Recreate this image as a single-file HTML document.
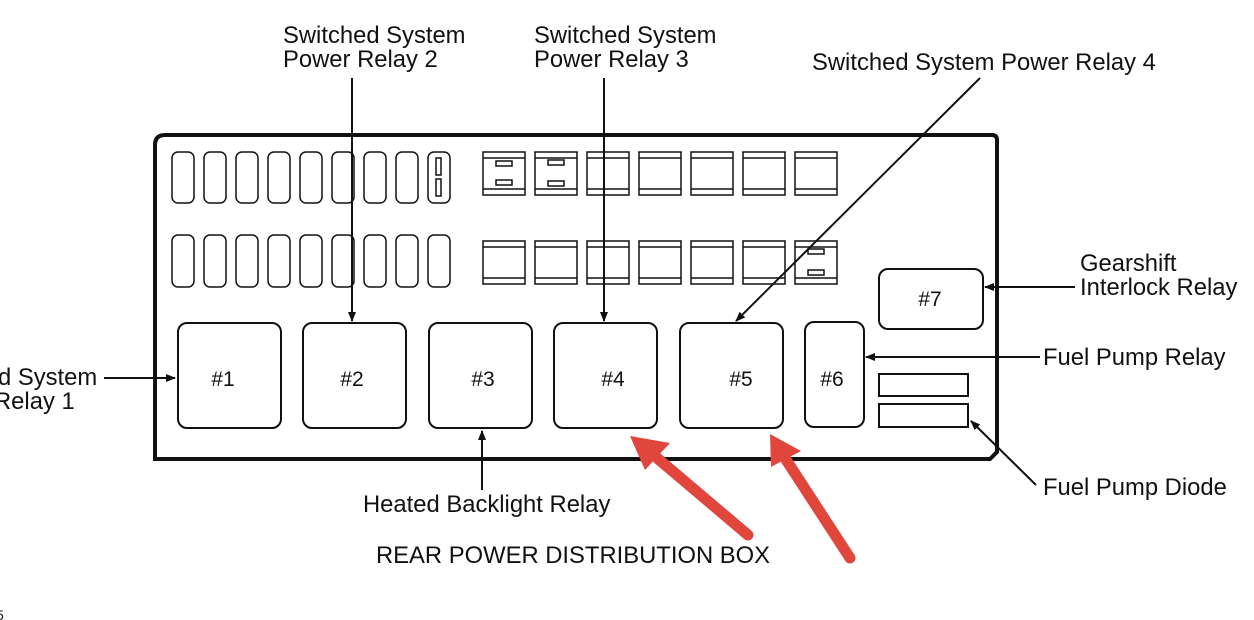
<!DOCTYPE html>
<html><head><style>
html,body{margin:0;padding:0;background:#fff;}
svg{display:block;}
text{font-family:"Liberation Sans",Arial,sans-serif;font-size:23.8px;fill:#111;}
text.n{font-size:21px;}
</style></head><body>
<svg width="1254" height="620" viewBox="0 0 1254 620" xmlns="http://www.w3.org/2000/svg">
<defs>
<marker id="a" markerWidth="10" markerHeight="8" refX="9" refY="4" orient="auto" markerUnits="userSpaceOnUse">
<path d="M0,0 L10,4 L0,8 Z" fill="#111"/></marker>
</defs>
<path d="M155,459 L155,145 Q155,135 165,135 L992,135 Q997,135 997,140 L997,452 L990,459 Z" fill="none" stroke="#111" stroke-width="4"/>
<g fill="none" stroke="#111" stroke-width="1.5">
<rect x="172" y="152" width="22" height="51" rx="6"/>
<rect x="204" y="152" width="22" height="51" rx="6"/>
<rect x="236" y="152" width="22" height="51" rx="6"/>
<rect x="268" y="152" width="22" height="51" rx="6"/>
<rect x="300" y="152" width="22" height="51" rx="6"/>
<rect x="332" y="152" width="22" height="51" rx="6"/>
<rect x="364" y="152" width="22" height="51" rx="6"/>
<rect x="396" y="152" width="22" height="51" rx="6"/>
<rect x="428" y="152" width="22" height="51" rx="6"/>
<rect x="436" y="158" width="5" height="17"/>
<rect x="436" y="179" width="5" height="17"/>
<rect x="172" y="235" width="22" height="52" rx="6"/>
<rect x="204" y="235" width="22" height="52" rx="6"/>
<rect x="236" y="235" width="22" height="52" rx="6"/>
<rect x="268" y="235" width="22" height="52" rx="6"/>
<rect x="300" y="235" width="22" height="52" rx="6"/>
<rect x="332" y="235" width="22" height="52" rx="6"/>
<rect x="364" y="235" width="22" height="52" rx="6"/>
<rect x="396" y="235" width="22" height="52" rx="6"/>
<rect x="428" y="235" width="22" height="52" rx="6"/>
</g>
<g fill="none" stroke="#111" stroke-width="1.5">
<g id="sq"><rect x="483" y="152" width="42" height="43"/><line x1="483" y1="158" x2="525" y2="158"/><line x1="483" y1="189" x2="525" y2="189"/></g>
<use href="#sq" x="52"/><use href="#sq" x="104"/><use href="#sq" x="156"/><use href="#sq" x="208"/><use href="#sq" x="260"/><use href="#sq" x="312"/>
<use href="#sq" y="89"/><use href="#sq" x="52" y="89"/><use href="#sq" x="104" y="89"/><use href="#sq" x="156" y="89"/><use href="#sq" x="208" y="89"/><use href="#sq" x="260" y="89"/><use href="#sq" x="312" y="89"/>
<rect x="496" y="161" width="16" height="5"/><rect x="496" y="180" width="16" height="5"/>
<rect x="548" y="160" width="16" height="5"/><rect x="548" y="181" width="16" height="5"/>
<rect x="808" y="249" width="16" height="5"/><rect x="808" y="270" width="16" height="5"/>
</g>
<g fill="#fff" stroke="#111" stroke-width="2">
<rect x="178" y="323" width="103" height="105" rx="9"/>
<rect x="303" y="323" width="103" height="105" rx="9"/>
<rect x="429" y="323" width="103" height="105" rx="9"/>
<rect x="554" y="323" width="103" height="105" rx="9"/>
<rect x="680" y="323" width="103" height="105" rx="9"/>
<rect x="805" y="322" width="59" height="105" rx="9"/>
<rect x="879" y="269" width="104" height="60" rx="9"/>
<rect x="879" y="374" width="89" height="22"/>
<rect x="879" y="404" width="89" height="23"/>
</g>
<g text-anchor="middle">
<text class="n" x="223" y="386">#1</text><text class="n" x="352" y="386">#2</text><text class="n" x="483" y="386">#3</text>
<text class="n" x="613" y="386">#4</text><text class="n" x="741" y="386">#5</text><text class="n" x="832" y="386">#6</text><text class="n" x="930" y="306">#7</text>
</g>
<g stroke="#111" stroke-width="2" fill="none" marker-end="url(#a)">
<line x1="104" y1="378" x2="175" y2="378"/>
<line x1="352" y1="78" x2="352" y2="321"/>
<line x1="604" y1="78" x2="604" y2="321"/>
<line x1="980" y1="78" x2="736" y2="321"/>
<line x1="482" y1="490" x2="482" y2="431"/>
<line x1="1075" y1="287" x2="985" y2="287"/>
<line x1="1040" y1="357" x2="866" y2="357"/>
<line x1="1036" y1="485" x2="971" y2="421"/>
</g>
<g stroke="#e0463c" stroke-width="11" stroke-linecap="round" fill="#e0463c">
<line x1="748" y1="535" x2="650" y2="452"/>
<line x1="850" y1="558" x2="783" y2="455"/>
</g>
<g fill="#e0463c">
<path d="M630,436 L670,443 L645,470 Z"/>
<path d="M770,434 L801,451 L771,467 Z"/>
</g>
<text x="283" y="43">Switched System</text>
<text x="283" y="67">Power Relay 2</text>
<text x="534" y="43">Switched System</text>
<text x="534" y="67">Power Relay 3</text>
<text x="812" y="70">Switched System Power Relay 4</text>
<text x="1080" y="271">Gearshift</text>
<text x="1080" y="295">Interlock Relay</text>
<text x="1043" y="365">Fuel Pump Relay</text>
<text x="1043" y="495">Fuel Pump Diode</text>
<text x="-2" y="385">d System</text>
<text x="-6" y="409">Relay 1</text>
<text x="363" y="512">Heated Backlight Relay</text>
<text x="376" y="563">REAR POWER DISTRIBUTION BOX</text>
<text x="-4" y="620" style="font-size:14px">5</text>
</svg>
</body></html>
